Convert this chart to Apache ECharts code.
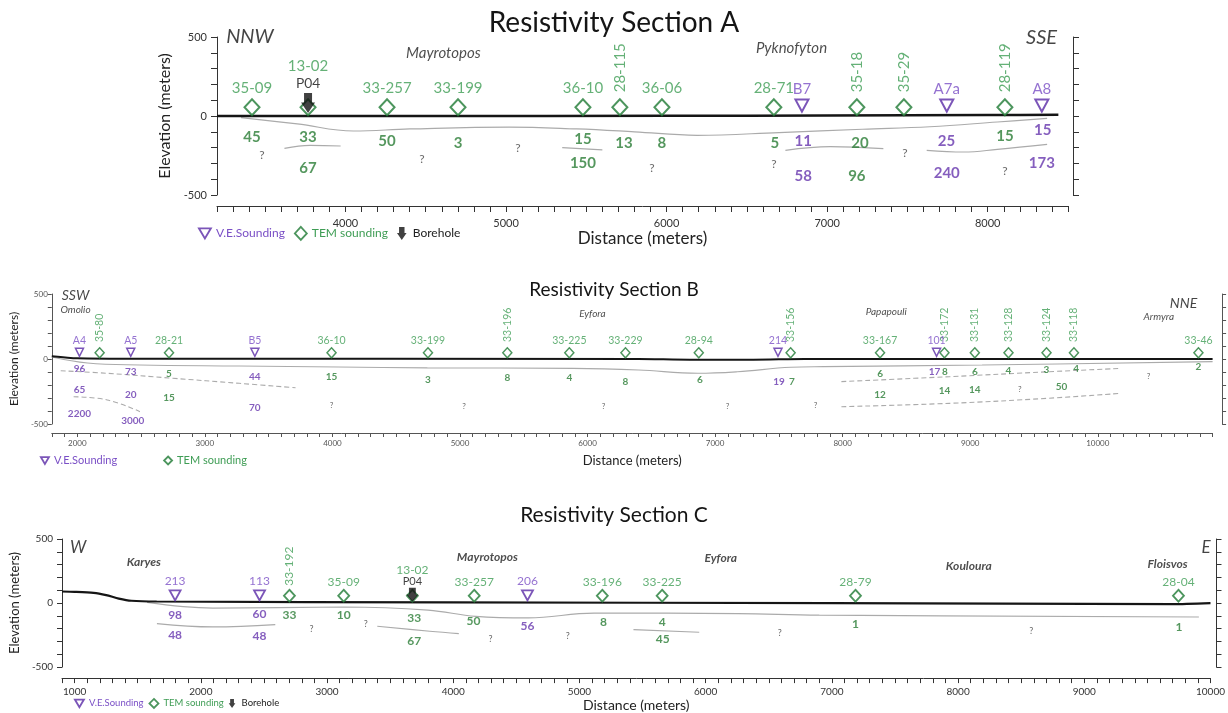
<!DOCTYPE html>
<html>
<head>
<meta charset="utf-8">
<title>Resistivity Sections</title>
<script src="https://cdn.jsdelivr.net/npm/echarts@6/dist/echarts.min.js"></script>
<style>
html,body{margin:0;padding:0;background:#ffffff;}
#chart{width:1228px;height:713px;}
</style>
</head>
<body>
<div id="chart"></div>
<script>
// ======================= DATA =======================
// ---- Section A ----
const aTitle = 'Resistivity Section A';
const aTemNames = ['35-09','13-02','33-257','33-199','36-10','28-115','36-06','28-71','35-18','35-29','28-119'];
const aTemDist  = [3418, 3767, 4259, 4701, 5479, 5709, 5971, 6668, 7185, 7478, 8107];
const aTemElev  = 55;
const aVesNames = ['B7','A7a','A8'];
const aVesDist  = [6843, 7745, 8337];
const aVesElev  = 66;
const aBoreNames    = ['P04'];
const aBoreStations = ['13-02'];
const aBoreDist     = [3767];
const aBoreElev     = 82;
const aSurface = [[3200,0],[4500,0],[6000,1],[7000,3],[8000,6],[8440,8]];
const aBoundaries = [
  [[3350,-10],[3700,-50],[4050,-95],[4400,-82],[5020,-70],[5440,-82],[5800,-100],[6190,-122],[6700,-105],[7220,-84],[7640,-68],[8060,-38],[8370,-15]],
  [[3620,-205],[3780,-186],[3970,-190]],
  [[5350,-200],[5600,-215]],
  [[6740,-217],[7020,-194],[7350,-207]],
  [[7620,-217],[7850,-228],[8060,-211],[8370,-179]]
];
const aTemValues = [[3418,-137,'45'],[3767,-137,'33'],[4259,-162,'50'],[4701,-169,'3'],[5479,-148,'15'],[5735,-169,'13'],[5971,-175,'8'],[6674,-175,'5'],[7204,-169,'20'],[8107,-127,'15'],[3767,-327,'67'],[5479,-300,'150'],[7185,-380,'96']];
const aVesValues = [[6851,-158,'11'],[7743,-162,'25'],[8343,-91,'15'],[6851,-380,'58'],[7745,-359,'240'],[8337,-296,'173']];
const aUnknown   = [[3480,-247],[4476,-274],[5074,-203],[5909,-327],[6668,-306],[7484,-232],[8107,-348]];
const aPlaces    = [[4610,400,'Mayrotopos'],[6778,430,'Pyknofyton']];
const aDirections= [[3405,505,'NNW'],[8335,495,'SSE']];

// ---- Section B ----
const bTitle = 'Resistivity Section B';
const bTemNames = ['35-80','28-21','36-10','33-199','33-196','33-225','33-229','28-94','33-156','33-167','33-172','33-131','33-128','33-124','33-118','33-46'];
const bTemDist  = [2175, 2719, 3993, 4749, 5371, 5857, 6297, 6872, 7592, 8293, 8798, 9036, 9300, 9598, 9813, 10789];
const bTemElev  = 48;
const bVesNames = ['A4','A5','B5','214','101'];
const bVesDist  = [2017, 2419, 3392, 7493, 8736];
const bVesElev  = 52;
const bBoreNames = [], bBoreStations = [], bBoreDist = [];
const bBoreElev  = 0;
const bSurface = [[1800,22],[2000,6],[2500,2],[6400,0],[6800,-5],[7300,-5],[7700,0],[10900,0]];
const bBoundaries = [
  [[1800,15],[2080,-31],[2490,-46],[3270,-54],[4045,-62],[4744,-68],[5885,-72],[6400,-85],[6864,-110],[7175,-98],[7594,-64],[7850,-59],[9093,-46],[10900,-20]],
  [[1870,-90],[2235,-110],[2748,-148],[3268,-187],[3711,-221]],
  [[1971,-290],[2235,-315],[2491,-405]],
  [[7990,-174],[8837,-136],[9613,-98],[10180,-72]],
  [[7990,-367],[8837,-341],[9613,-302],[10180,-264]]
];
const bTemValues = [[2719,-110,'5'],[3993,-136,'15'],[4749,-161,'3'],[5371,-148,'8'],[5857,-148,'4'],[6297,-179,'8'],[6880,-161,'6'],[7602,-174,'7'],[8293,-110,'6'],[8802,-102,'8'],[9036,-98,'6'],[9300,-90,'4'],[9598,-85,'3'],[9830,-72,'4'],[10789,-59,'2'],[2719,-302,'15'],[8293,-272,'12'],[8798,-244,'14'],[9036,-233,'14'],[9715,-213,'50']];
const bVesValues = [[2017,-72,'96'],[2419,-98,'73'],[3392,-136,'44'],[7501,-179,'19'],[8720,-102,'17'],[2017,-238,'65'],[2419,-277,'20'],[3392,-379,'70'],[2017,-418,'2200'],[2435,-474,'3000']];
const bUnknown   = [[3993,-354],[5031,-361],[6126,-361],[7097,-361],[7788,-358],[9388,-233],[10398,-136]];
const bPlaces    = [[1986,382,'Omolio'],[6038,351,'Eyfora'],[8342,364,'Papapouli'],[10478,325,'Armyra']];
const bDirections= [[1986,492,'SSW'],[10672,428,'NNE']];

// ---- Section C ----
const cTitle = 'Resistivity Section C';
const cTemNames = ['33-192','35-09','13-02','33-257','33-196','33-225','28-79','28-04'];
const cTemDist  = [2702, 3132, 3676, 4166, 5181, 5655, 7187, 9746];
const cTemElev  = 57;
const cVesNames = ['213','113','206'];
const cVesDist  = [1796, 2465, 4588];
const cVesElev  = 60;
const cBoreNames    = ['P04'];
const cBoreStations = ['13-02'];
const cBoreDist     = [3676];
const cBoreElev     = 64;
const cSurface = [[900,90],[1000,88],[1150,80],[1250,62],[1350,35],[1450,18],[1650,12],[4000,5],[7000,0],[9700,-8],[10000,0]];
const cBoundaries = [
  [[1574,5],[2095,-39],[3137,-31],[3800,-55],[4179,-104],[4595,-116],[5116,-78],[6259,-83],[6900,-95],[9908,-109]],
  [[1652,-160],[2095,-186],[2590,-168]],
  [[3398,-181],[3814,-220],[4044,-238]],
  [[5428,-207],[5949,-228]]
];
const cTemValues = [[2702,-98,'33'],[3132,-98,'10'],[3690,-116,'33'],[4160,-142,'50'],[5190,-150,'8'],[5655,-150,'4'],[7187,-168,'1'],[9750,-186,'1'],[3690,-297,'67'],[5660,-284,'45']];
const cVesValues = [[1796,-91,'98'],[2465,-83,'60'],[4588,-181,'56'],[1796,-253,'48'],[2465,-259,'48']];
const cUnknown   = [[2877,-207],[3306,-168],[4296,-284],[4908,-259],[6587,-233],[8580,-220]];
const cPlaces    = [[1548,322,'Karyes'],[4270,361,'Mayrotopos'],[6119,349,'Eyfora'],[8085,289,'Kouloura'],[9660,305,'Floisvos']];
const cDirections= [[1027,434,'W'],[9965,434,'E']];

// ======================= STYLE =======================
const FONT = 'Lato, "Liberation Sans", sans-serif';
const GREEN_LABEL = '#3f9d55', GREEN_VALUE = '#2b7d36', GREEN_MARK = '#1f7a35';
const PURPLE_LABEL = '#7a4fc6', PURPLE_VALUE = '#6636ae', PURPLE_MARK = '#5a2aa6';
const TRI = 'path://M0,0 L20,0 L10,17 Z';
const ARROW = 'path://M3,0 L11,0 L11,9 L14,9 L7,19 L0,9 L3,9 Z';

const STYLES = [
  { grid:{left:217,right:160,top:37,height:158}, xMin:3200, xMax:8500, xOffset:11, rOffset:5,
    titleTop:4, titleSize:28, axisColor:'#333', tickFont:11, tickColor:'#333', xLabelMargin:12, yLabelMargin:10, tickLen:6,
    xNameSize:17, xNameGap:20, yNameSize:16, yNameGap:22,
    stationFont:15, valueFont:15, qFont:12, placeFont:15, placeWeight:'normal', dirFont:20,
    temSize:[15,16], vesSize:[13,12], boreSize:[14,20], markBorder:2,
    labelDist:3, vesLabelDist:2, vDist:6, boreLine:17, boreLabelDist:1,
    surfaceWidth:2.5, boundaryWidth:1.2, dashedFrom:null,
    vertical:['28-115','35-18','35-29','28-119'],
    legend:{left:198, top:226, itemGap:9, itemWidth:12, itemHeight:13, fontSize:12, items:3} },
  { grid:{left:41,right:15.4,top:294,height:130}, xMin:1800, xMax:10900, xOffset:9, rOffset:9.5,
    titleTop:275, titleSize:19, axisColor:'#555', tickFont:8, tickColor:'#555', xLabelMargin:6, yLabelMargin:4, tickLen:4,
    xNameSize:13, xNameGap:21, yNameSize:12, yNameGap:23,
    stationFont:10.5, valueFont:10, qFont:8, placeFont:10, placeWeight:'normal', dirFont:14,
    temSize:[9,10], vesSize:[8,8], boreSize:[9,12], markBorder:1.5,
    labelDist:1, vesLabelDist:1, vDist:5, boreLine:11, boreLabelDist:1,
    surfaceWidth:2, boundaryWidth:1.1, dashedFrom:1,
    vertical:['35-80','33-196','33-156','33-172','33-131','33-128','33-124','33-118'],
    legend:{left:40, top:455, itemGap:46, itemWidth:8, itemHeight:8, fontSize:11, items:2} },
  { grid:{left:47,right:16.4,top:539,height:129}, xMin:900, xMax:10000, xOffset:11, rOffset:6,
    titleTop:500, titleSize:21, axisColor:'#333', tickFont:10, tickColor:'#333', xLabelMargin:9, yLabelMargin:9, tickLen:5,
    xNameSize:14, xNameGap:19, yNameSize:13, yNameGap:25,
    stationFont:12, valueFont:12, qFont:9, placeFont:12, placeWeight:'bold', dirFont:17,
    temSize:[11,12], vesSize:[11,10], boreSize:[12,14], markBorder:1.8,
    labelDist:1, vesLabelDist:2, vDist:3, boreLine:11, boreLabelDist:1,
    surfaceWidth:2.2, boundaryWidth:1.2, dashedFrom:null,
    vertical:['33-192'],
    legend:{left:74, top:698, itemGap:5, itemWidth:9, itemHeight:9, fontSize:9.5, items:3} }
];

const SECTIONS = [
  {title:aTitle, temNames:aTemNames, temDist:aTemDist, temElev:aTemElev, vesNames:aVesNames, vesDist:aVesDist, vesElev:aVesElev,
   boreNames:aBoreNames, boreStations:aBoreStations, boreDist:aBoreDist, boreElev:aBoreElev, surface:aSurface, boundaries:aBoundaries,
   temValues:aTemValues, vesValues:aVesValues, unknown:aUnknown, places:aPlaces, directions:aDirections},
  {title:bTitle, temNames:bTemNames, temDist:bTemDist, temElev:bTemElev, vesNames:bVesNames, vesDist:bVesDist, vesElev:bVesElev,
   boreNames:bBoreNames, boreStations:bBoreStations, boreDist:bBoreDist, boreElev:bBoreElev, surface:bSurface, boundaries:bBoundaries,
   temValues:bTemValues, vesValues:bVesValues, unknown:bUnknown, places:bPlaces, directions:bDirections},
  {title:cTitle, temNames:cTemNames, temDist:cTemDist, temElev:cTemElev, vesNames:cVesNames, vesDist:cVesDist, vesElev:cVesElev,
   boreNames:cBoreNames, boreStations:cBoreStations, boreDist:cBoreDist, boreElev:cBoreElev, surface:cSurface, boundaries:cBoundaries,
   temValues:cTemValues, vesValues:cVesValues, unknown:cUnknown, places:cPlaces, directions:cDirections}
];

// ======================= BUILD =======================
function textSeries(base, rows, color, size, extra) {
  return Object.assign({
    type:'scatter', symbol:'circle', symbolSize:1, clip:false, silent:true, z:6,
    itemStyle:{color:'rgba(0,0,0,0)'},
    data: rows.map(r => ({value:[r[0], r[1], r[2] === undefined ? '?' : r[2]]})),
    label:Object.assign({show:true, position:'inside', formatter:p => p.value[2], color:color, fontSize:size, fontFamily:FONT}, extra || {})
  }, base);
}

function sectionSeries(i, D, S) {
  const base = {xAxisIndex:i, yAxisIndex:i * 2};
  const out = [];
  out.push(Object.assign({type:'line', name:'surface', data:D.surface, symbol:'none', smooth:0.25,
    lineStyle:{color:'#151515', width:S.surfaceWidth}, z:3, silent:true}, base));
  D.boundaries.forEach((seg, k) => {
    const dashed = S.dashedFrom !== null && k >= S.dashedFrom;
    out.push(Object.assign({type:'line', name:'boundary', data:seg, symbol:'none', smooth:0.4,
      lineStyle:{color:'#ababab', width:S.boundaryWidth, type: dashed ? [5,3] : 'solid'}, z:2, silent:true}, base));
  });
  const rotLabel = dist => ({rotate:90, align:'left', verticalAlign:'middle', distance:dist});
  out.push(Object.assign({type:'scatter', name:'TEM sounding', symbol:'diamond', symbolSize:S.temSize, clip:false, z:5,
    itemStyle:{color:'#ffffff', borderColor:GREEN_MARK, borderWidth:S.markBorder},
    label:{show:true, position:'top', distance:S.labelDist, formatter:'{b}', color:GREEN_LABEL, fontSize:S.stationFont, fontFamily:FONT},
    data: D.temNames.map((n, k) => {
      const item = {name:n, value:[D.temDist[k], D.temElev]};
      if (D.boreStations.includes(n)) item.label = {show:false};
      else if (S.vertical.includes(n)) item.label = rotLabel(S.vDist);
      return item;
    })}, base));
  out.push(Object.assign({type:'scatter', name:'V.E.Sounding', symbol:TRI, symbolSize:S.vesSize, clip:false, z:5,
    itemStyle:{color:'#ffffff', borderColor:PURPLE_MARK, borderWidth:S.markBorder},
    label:{show:true, position:'top', distance:S.vesLabelDist, formatter:'{b}', color:PURPLE_LABEL, fontSize:S.stationFont, fontFamily:FONT},
    data: D.vesNames.map((n, k) => ({name:n, value:[D.vesDist[k], D.vesElev]}))}, base));
  if (D.boreNames.length) {
    out.push(Object.assign({type:'scatter', name:'Borehole', symbol:ARROW, symbolSize:S.boreSize, clip:false, z:6,
      itemStyle:{color:'#111111'},
      label:{show:true, position:'top', distance:S.boreLabelDist, lineHeight:S.boreLine,
        formatter: p => '{s|' + p.data.station + '}\n{b|' + p.name + '}',
        rich:{ s:{color:GREEN_LABEL, fontSize:S.stationFont, fontFamily:FONT, lineHeight:S.boreLine},
               b:{color:'#111', fontSize:S.stationFont * 0.92, fontFamily:FONT, lineHeight:S.boreLine} }},
      data: D.boreNames.map((n, k) => ({name:n, station:D.boreStations[k], value:[D.boreDist[k], D.boreElev]}))}, base));
  }
  out.push(textSeries(base, D.temValues, GREEN_VALUE, S.valueFont, {fontWeight:'bold'}));
  out.push(textSeries(base, D.vesValues, PURPLE_VALUE, S.valueFont, {fontWeight:'bold'}));
  out.push(textSeries(base, D.unknown, '#444', S.qFont, {}));
  out.push(textSeries(base, D.places, '#222', S.placeFont, {fontStyle:'italic', fontWeight:S.placeWeight}));
  out.push(textSeries(base, D.directions, '#151515', S.dirFont, {fontStyle:'italic'}));
  return out;
}

const grids = [], xAxes = [], yAxes = [], titles = [], legends = [];
let series = [];
SECTIONS.forEach((D, i) => {
  const S = STYLES[i];
  grids.push(Object.assign({containLabel:false}, S.grid));
  titles.push({text:D.title, left:'center', top:S.titleTop,
    textStyle:{fontSize:S.titleSize, fontWeight:'normal', color:'#151515', fontFamily:FONT}});
  const axisLine = {show:true, onZero:false, lineStyle:{color:S.axisColor, width:1}};
  xAxes.push({type:'value', gridIndex:i, min:S.xMin, max:S.xMax, interval:100, offset:S.xOffset,
    axisLine:axisLine, axisTick:{show:true, length:S.tickLen, lineStyle:{color:S.axisColor}},
    axisLabel:{formatter:v => (v % 1000 === 0 ? String(v) : ''), fontSize:S.tickFont, color:S.tickColor, margin:S.xLabelMargin, fontFamily:FONT},
    splitLine:{show:false}, name:'Distance (meters)', nameLocation:'middle', nameGap:S.xNameGap,
    nameTextStyle:{fontSize:S.xNameSize, color:'#222', fontFamily:FONT}});
  yAxes.push({type:'value', gridIndex:i, min:-500, max:500, interval:100, position:'left',
    axisLine:axisLine, axisTick:{show:true, length:S.tickLen, lineStyle:{color:S.axisColor}},
    axisLabel:{formatter:v => (v % 500 === 0 ? String(v) : ''), fontSize:S.tickFont, color:S.tickColor, margin:S.yLabelMargin, fontFamily:FONT},
    splitLine:{show:false}, name:'Elevation (meters)', nameLocation:'middle', nameRotate:90, nameGap:S.yNameGap,
    nameTextStyle:{fontSize:S.yNameSize, color:'#222', fontFamily:FONT}});
  yAxes.push({type:'value', gridIndex:i, min:-500, max:500, interval:100, position:'right', offset:S.rOffset,
    axisLine:axisLine, axisTick:{show:true, length:S.tickLen, lineStyle:{color:S.axisColor}},
    axisLabel:{show:false}, splitLine:{show:false}});
  const L = S.legend;
  const items = [
    {name:'V.E.Sounding', icon:TRI, itemStyle:{color:'rgba(255,255,255,0)', borderColor:PURPLE_MARK, borderWidth:1.8}, textStyle:{color:PURPLE_LABEL}},
    {name:'TEM sounding', icon:'diamond', itemStyle:{color:'rgba(255,255,255,0)', borderColor:GREEN_MARK, borderWidth:1.8}, textStyle:{color:GREEN_LABEL}},
    {name:'Borehole', icon:ARROW, itemStyle:{color:'#111', borderWidth:0}, textStyle:{color:'#222'}}
  ].slice(0, L.items);
  legends.push({left:L.left, top:L.top, orient:'horizontal', itemGap:L.itemGap, itemWidth:L.itemWidth, itemHeight:L.itemHeight,
    selectedMode:false, padding:0, textStyle:{fontSize:L.fontSize, fontFamily:FONT}, data:items});
  series = series.concat(sectionSeries(i, D, S));
});

const chart = echarts.init(document.getElementById('chart'), null, {renderer:'canvas'});
chart.setOption({
  backgroundColor:'#ffffff',
  animation:false,
  title:titles,
  legend:legends,
  grid:grids,
  xAxis:xAxes,
  yAxis:yAxes,
  series:series
});
</script>
</body>
</html>
